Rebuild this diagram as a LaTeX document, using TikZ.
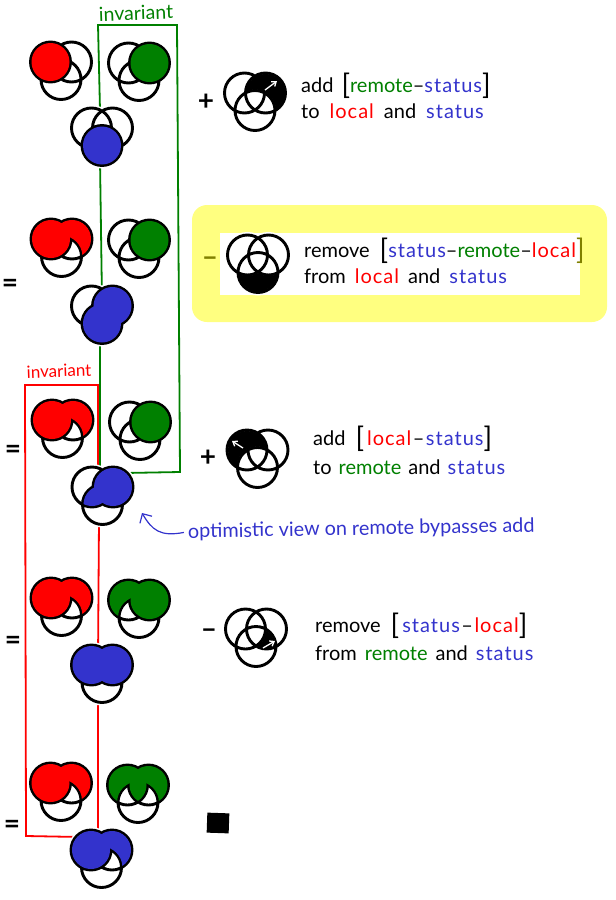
\documentclass[tikz,border=0pt]{standalone}
\usepackage{fontspec}
\setmainfont{Lato}
\usetikzlibrary{arrows.meta}
\definecolor{localred}{RGB}{255,0,0}
\definecolor{remotegreen}{RGB}{0,128,0}
\definecolor{statusblue}{RGB}{51,51,204}
\definecolor{marker}{RGB}{255,255,128}
\definecolor{markerink}{RGB}{128,128,0}
% Cercles du diagramme
\newcommand{\partL}{(-10.5,0) circle (20)}
\newcommand{\partR}{(10.5,0) circle (20)}
\newcommand{\partB}{(0,17.5) circle (20)}
\newcommand{\innerL}{(-10.5,0) circle (19)}
\newcommand{\innerR}{(10.5,0) circle (19)}
\newcommand{\innerB}{(0,17.5) circle (19)}
\newcommand{\outerL}{(-10.5,0) circle (21)}
\newcommand{\outerR}{(10.5,0) circle (21)}
\newcommand{\outerB}{(0,17.5) circle (21)}
\newcommand{\cutaway}[1]{\clip (-45,-45) rectangle (45,60) #1;}
\newcommand{\restB}[2]{\begin{scope}[even odd rule]\cutaway{\outerB}\fill[#1] #2;\end{scope}}
\newcommand{\lens}[3]{\begin{scope}\clip #2;\fill[#1] #3;\end{scope}}
\newcommand{\venn}[3]{\begin{scope}[shift={(#1,#2)}]
    \draw[halo] \partL \partR \partB;
    \draw[vennline] \partL \partR \partB;
    #3
  \end{scope}}
% Regions
\newcommand{\paintLR}[1]{\restB{#1}{\innerR}\fill[#1] \innerL;}
\newcommand{\txlocal}[1]{\textcolor{localred}{\addfontfeature{LetterSpace=5}#1}}
\newcommand{\txremote}[1]{\textcolor{remotegreen}{#1}}
\newcommand{\txstatus}[1]{\textcolor{statusblue}{\addfontfeature{LetterSpace=5}#1}}
\newcommand{\bigbr}[1]{\raisebox{-2.5pt}{\fontsize{28}{28}\fontseries{l}\selectfont #1}}
\newcommand{\wide}[1]{\spaceskip=#1pt\relax}
\newcommand{\gapdash}{\kern1.5pt–\kern1.5pt}
\tikzset{
  vennline/.style={black,line width=2.9pt},
  halo/.style={white,fill=white,line width=6pt},
  whitearrow/.style={white,line width=1.3pt,->,>={Straight Barb[length=4pt,width=6pt]}},
  bluearrow/.style={statusblue,line width=1.2pt,->,>={Straight Barb[length=7pt,width=14pt]}},
  greenbox/.style={remotegreen,line width=1.8pt},
  redbox/.style={localred,line width=1.8pt},
  caption/.style={anchor=base west,inner sep=0pt,font=\fontsize{20}{20}\selectfont},
  opsign/.style={inner sep=0pt,font=\fontsize{28}{28}\bfseries\selectfont},
}
\begin{document}
\begin{tikzpicture}[x=1pt,y=-1pt]
  \useasboundingbox (0,0) rectangle (616,900);
  % Surligneur
  \fill[marker,rounded corners=15pt] (192,205) rectangle (607,322);
  \fill[white] (220,233) rectangle (580,295);
  % Invariants
  \draw[greenbox] (100,110) -- (98,25) -- (177,25) -- (180,472) -- (125,473);
  \draw[greenbox] (100,160) -- (102,300);
  \draw[greenbox] (100,340) -- (100,475);
  \draw[redbox] (98,475) -- (98,385) -- (25,385) -- (26,836) -- (80,837);
  \draw[redbox] (99,520) -- (98,660);
  \draw[redbox] (98,695) -- (98,835);
  \node[font=\fontsize{19.5}{19.5}\selectfont,text=remotegreen,rotate=2,inner sep=0pt] (invgreen) at (136,13) {invariant};
  \node[font=\fontsize{17}{17}\selectfont,text=localred,rotate=2,inner sep=0pt] (invred) at (59,371) {invariant};
  % Ligne 1
  \venn{61}{62}{\fill[localred] \innerL;}
  \venn{139}{63}{\fill[remotegreen] \innerR;}
  \venn{102}{128}{\fill[statusblue] \innerB;}
  \node[opsign] (plusa) at (206,102) {+};
  \venn{255}{93}{\restB{black}{\innerR}\draw[whitearrow] (10,-3) -- (22,-12);}
  \node[caption] (adda) at (301,92) {\wide{8}add \bigbr{[}\txremote{remote}–\txstatus{status}\bigbr{]}};
  \node[caption] (toa) at (301,118) {\wide{10}to \txlocal{local} and \txstatus{status}};
  % Ligne 2
  \node[opsign] (eqb) at (10,286) {=};
  \venn{61.5}{239}{\paintLR{localred}}
  \venn{139}{240}{\fill[remotegreen] \innerR;}
  \venn{102}{306}{\fill[statusblue] \innerR; \fill[statusblue] \innerB;}
  \node[opsign,text=markerink] (minusb) at (210,262) {–};
  \venn{258}{255}{\begin{scope}[even odd rule]\cutaway{\outerL}\cutaway{\outerR}\fill[black] \innerB;\end{scope}}
  \node[caption] (removeb) at (304,257) {\wide{10}remove \bigbr{[}\txstatus{status}–\txremote{remote}–\txlocal{local}\textcolor{markerink}{\bigbr{]}}};
  \node[caption] (fromb) at (304,283) {\wide{9}from \txlocal{local} and \txstatus{status}};
  % Ligne 3
  \node[opsign] (eqc) at (13,452) {=};
  \venn{62.5}{420}{\paintLR{localred}}
  \venn{140}{422}{\fill[remotegreen] \innerR;}
  \venn{102.5}{487}{\fill[statusblue] \innerR; \lens{statusblue}{\innerL}{\innerB}}
  \node[opsign] (plusc) at (208,458) {+};
  \venn{257.5}{450}{\restB{black}{\innerL}\draw[whitearrow] (-14.5,-2) -- (-25.5,-9);}
  \node[caption] (addc) at (313,445) {\wide{10}add \bigbr{[}\kern3pt\txlocal{local}\gapdash\txstatus{status}\bigbr{]}};
  \node[caption] (toc) at (313,474) {\wide{7}to \txremote{remote} and \txstatus{status}};
  % Remarque
  \node[caption,font=\fontsize{19.8}{20}\selectfont,text=statusblue,rotate=1] (optview) at (188,538) {optimistic view on remote bypasses add};
  \coordinate (opttip) at (142,513);
  \draw[bluearrow] ([xshift=-4pt]optview.west) .. controls (160,537) and (152,530) .. (opttip);
  % Ligne 4
  \node[opsign] (eqd) at (13,643) {=};
  \venn{61.5}{598}{\paintLR{localred}}
  \venn{139}{600}{\fill[remotegreen] \innerR; \restB{remotegreen}{\innerL}}
  \venn{102}{665}{\fill[statusblue] \innerL; \fill[statusblue] \innerR;}
  \node[opsign] (minusd) at (209,634) {–};
  \venn{256}{629}{\begin{scope}[even odd rule]\clip \innerR;\cutaway{\outerL}\fill[black] \innerB;\end{scope}\draw[whitearrow] (7,19) -- (19,12);}
  \node[caption] (removed) at (315,632) {\wide{10}remove \bigbr{[}\kern3pt\txstatus{status}\gapdash\txlocal{local}\bigbr{]}};
  \node[caption] (fromd) at (315,660) {\wide{8}from \txremote{remote} and \txstatus{status}};
  % Ligne 5
  \node[opsign] (eqe) at (12,827) {=};
  \venn{61}{783}{\paintLR{localred}}
  \venn{138}{785}{\lens{remotegreen}{\innerL}{\innerR}\restB{remotegreen}{\innerL}\restB{remotegreen}{\innerR}}
  \venn{101.5}{850}{\paintLR{statusblue}}
  \node[fill=black,minimum width=22pt,minimum height=20pt,inner sep=0pt,rotate=-2] (endmark) at (218,823) {};
\end{tikzpicture}
\end{document}
